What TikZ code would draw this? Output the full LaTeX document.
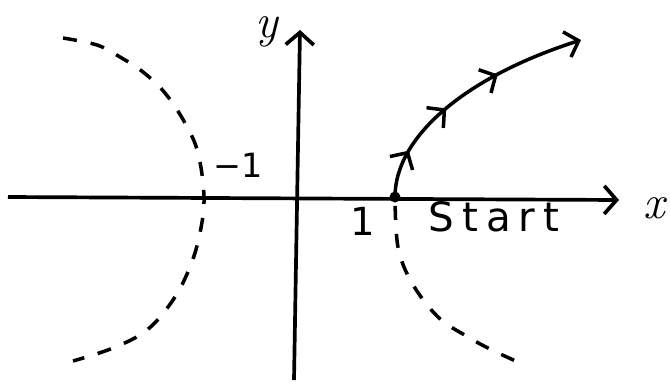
\documentclass[tikz,border=0pt]{standalone}
\usepackage{fontspec}
\setsansfont{DejaVu Sans}
\usetikzlibrary{arrows.meta,decorations.markings}

\begin{document}
\begin{tikzpicture}[
    axis/.style={line width=2.1pt, -{Straight Barb[length=7pt,width=16pt]}},
    branch/.style={line width=2pt, dash pattern=on 8pt off 8pt},
    traj/.style={line width=2pt, -{Straight Barb[length=7pt,width=15pt]},
                 postaction={decorate},
                 decoration={markings,
                   mark=at position 0.19 with {\arrow{Straight Barb[length=7pt,width=15pt]}},
                   mark=at position 0.41 with {\arrow{Straight Barb[length=7pt,width=15pt]}},
                   mark=at position 0.65 with {\arrow{Straight Barb[length=7pt,width=15pt]}}}},
    lbl/.style={font=\sffamily\fontsize{22}{24}\selectfont},
    var/.style={font=\rmfamily\itshape\fontsize{27}{29}\selectfont},
  ]
  \useasboundingbox (-6,-3.70) rectangle (7.4,3.94);

  % Osi
  \coordinate (xl) at (-5.84,0);
  \coordinate (xr) at (6.38,-0.06);
  \coordinate (yb) at (-0.12,-3.66);
  \coordinate (yt) at (0,3.34);
  \draw[axis] (xl) -- (xr);
  \draw[axis] (yb) -- (yt);
  \node[var] (ylab) at (-0.66,3.30) {y};
  \node[var] (xlab) at (7.08,-0.22) {x};

  % Tjemena
  \coordinate (lv) at (-1.92,0);
  \coordinate (start) at (1.9,0);
  \node[lbl, font=\sffamily\fontsize{19}{21}\selectfont] (m1) at (-1.24,0.64) {−1};
  \node[lbl] (p1) at (1.26,-0.48) {1};
  \node[lbl, font=\sffamily\fontsize{23}{25}\selectfont] (st) at (3.88,-0.40)
    {\addfontfeature{LetterSpace=20}Start};

  % Lijeva grana
  \draw[branch] plot[smooth, tension=0.6] coordinates {
    (-4.74,3.18) (-4.06,3.04) (-3.6,2.8) (-3.14,2.5) (-2.7,2.08)
    (-2.3,1.48) (-2.04,0.88) (lv) (-2.0,-0.72) (-2.2,-1.4)
    (-2.54,-2.06) (-3.06,-2.66) (-3.74,-3.02) (-4.54,-3.28)};

  % Desna grana, donji dio
  \draw[branch, dash phase=-5pt] plot[smooth, tension=0.6] coordinates {
    (start) (1.96,-1.0) (2.24,-1.72) (2.76,-2.4)
    (3.36,-2.8) (3.84,-3.06) (4.4,-3.32)};

  % Putanja
  \coordinate (end) at (5.62,3.14);
  \draw[traj] (start) .. controls (1.9,1.2) and (3.3,2.4) .. (end);
  \fill (start) circle (0.11);
\end{tikzpicture}
\end{document}
